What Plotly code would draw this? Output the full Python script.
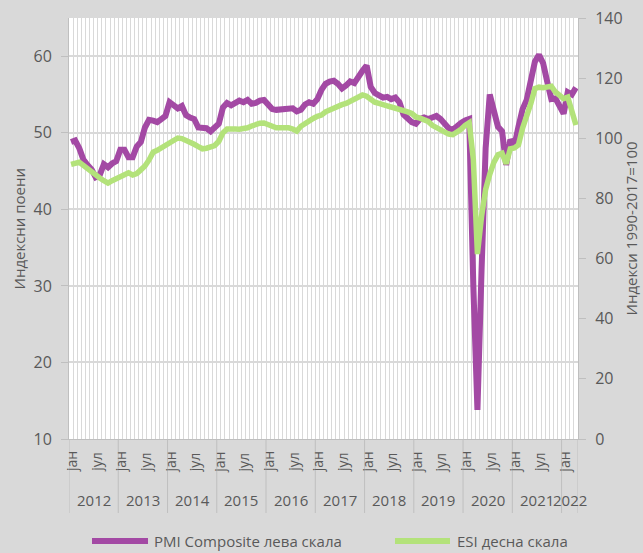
import plotly.graph_objects as go

years = [2012, 2013, 2014, 2015, 2016, 2017, 2018, 2019, 2020, 2021, 2022]
months_last_year = 4
month_names = {0: "јан", 6: "јул"}

pmi = [
    48.8, 49.0, 48.0, 46.5, 45.8, 45.2, 44.2, 44.5, 45.9, 45.5, 46.0, 46.3,
    47.8, 47.8, 46.8, 46.8, 48.2, 48.8, 50.7, 51.7, 51.6, 51.4, 51.8, 52.2,
    54.0, 53.5, 53.2, 53.5, 52.3, 52.0, 51.8, 50.7, 50.6, 50.6, 50.2, 50.7,
    51.2, 53.3, 53.9, 53.6, 53.8, 54.2, 54.0, 54.3, 53.8, 53.9, 54.2, 54.3,
    53.7, 53.1, 53.0, 53.1, 53.1, 53.2, 53.2, 52.8, 53.0, 53.7, 54.0, 53.8,
    54.4, 55.6, 56.4, 56.7, 56.8, 56.4, 55.8, 56.2, 56.7, 56.5, 57.5, 58.1,
    58.8, 56.0, 55.2, 55.0, 54.6, 54.7, 54.4, 54.6, 54.0, 52.4, 51.9, 51.4,
    51.2, 51.8, 52.0, 51.8, 52.0, 52.2, 51.8, 51.3, 50.6, 50.4, 50.9, 51.3,
    51.6, 51.8, 30.0, 13.8, 32.0, 48.0, 55.0, 52.5, 50.8, 50.2, 45.8, 49.1,
    48.3, 50.8, 53.1, 54.3, 56.9, 59.3, 60.2, 59.1, 56.7, 54.4, 54.5, 53.6,
    52.5, 55.3, 55.0, 55.9,
]

esi = [
    91.3, 91.8, 92.0, 91.0, 89.8, 88.8, 87.8, 86.8, 85.9, 85.1, 85.9, 86.6,
    87.3, 88.1, 88.5, 87.8, 88.3, 89.5, 90.8, 92.8, 95.4, 96.0, 96.8, 97.8,
    98.6, 99.6, 100.1, 99.9, 99.3, 98.9, 98.0, 97.2, 96.5, 96.7, 97.0, 97.6,
    99.0, 101.8, 103.1, 103.3, 103.1, 103.0, 103.2, 103.5, 104.1, 104.6, 105.0, 105.1,
    104.5, 103.9, 103.5, 103.5, 103.6, 103.5, 103.1, 102.4, 104.0, 105.0, 105.8, 106.6,
    107.3, 107.7, 108.8, 109.5, 110.0, 110.8, 111.2, 111.6, 112.3, 112.9, 113.5, 114.4,
    114.0, 112.8, 112.0, 111.6, 111.4, 110.8, 110.4, 110.1, 109.6, 109.1, 108.8, 108.3,
    107.1, 106.7, 106.3, 105.6, 104.3, 103.6, 102.4, 101.9, 101.4, 101.2, 102.0, 103.0,
    104.3, 105.2, 93.0, 61.5, 74.0, 83.0, 88.0, 92.0, 94.5, 95.0, 91.5, 96.5,
    96.8, 97.8, 103.4, 107.0, 111.5, 116.5, 117.0, 116.8, 117.0, 117.3, 115.4, 114.2,
    113.2, 113.7, 108.4, 104.4,
]

series_names = ["PMI Composite лева скала", "ESI десна скала"]
series_colors = ["#a349a4", "#b3e27a"]

categories = []
for y in years:
    n = months_last_year if y == years[-1] else 12
    for m in range(1, n + 1):
        categories.append(f"{y}-{m:02d}")
N = len(categories)

FONT = "Open Sans"
TXT = "#595959"
GRID = "#d9d9d9"
AX = "#bfbfbf"

# plot area geometry in pixels (for paper-coordinate helpers)
W, H = 643, 553
L, R, T, B = 69, 65, 18, 114
PW, PH = W - L - R, H - T - B


def px(xp):
    return (xp - L) / PW


def py(yp):
    return (H - B - yp) / PH


fig = go.Figure()
fig.add_trace(go.Scatter(
    x=categories, y=pmi, name=series_names[0], mode="lines",
    line=dict(color=series_colors[0], width=6), yaxis="y",
))
fig.add_trace(go.Scatter(
    x=categories, y=esi, name=series_names[1], mode="lines",
    line=dict(color=series_colors[1], width=5.5), yaxis="y2",
))

annotations = []
shapes = []
idx = 0
for y in years:
    n = months_last_year if y == years[-1] else 12
    for mo, name in month_names.items():
        if mo < n:
            annotations.append(dict(
                x=idx + mo, y=py(462), xref="x", yref="paper", text=name,
                textangle=-90, showarrow=False, xanchor="center", yanchor="middle",
                font=dict(family=FONT, size=14, color=TXT)))
    annotations.append(dict(
        x=idx + (n - 1) / 2, y=py(500), xref="x", yref="paper", text=str(y),
        showarrow=False, xanchor="center", yanchor="middle",
        font=dict(family=FONT, size=15, color=TXT)))
    shapes.append(dict(type="line", xref="x", yref="paper", x0=idx - 0.5, x1=idx - 0.5,
                       y0=0, y1=py(513), line=dict(color=AX, width=1)))
    idx += n
shapes.append(dict(type="line", xref="x", yref="paper", x0=idx - 0.5, x1=idx - 0.5,
                   y0=0, y1=py(513), line=dict(color=AX, width=1)))

annotations.append(dict(
    x=px(18), y=0.5, xref="paper", yref="paper", text="Индексни поени",
    textangle=-90, showarrow=False, xanchor="center", yanchor="middle",
    font=dict(family=FONT, size=15, color=TXT)))
annotations.append(dict(
    x=px(630), y=0.5, xref="paper", yref="paper", text="Индекси 1990-2017=100",
    textangle=-90, showarrow=False, xanchor="center", yanchor="middle",
    font=dict(family=FONT, size=15, color=TXT)))

# legend (drawn manually to match the reference placement)
legend_items = [(92, 148, 152), (395, 450, 455)]
for (x0, x1, xt), name, col in zip(legend_items, series_names, series_colors):
    shapes.append(dict(type="line", xref="paper", yref="paper", x0=px(x0), x1=px(x1),
                       y0=py(541), y1=py(541), line=dict(color=col, width=6)))
    annotations.append(dict(
        x=px(xt), y=py(541), xref="paper", yref="paper", text=name,
        showarrow=False, xanchor="left", yanchor="middle",
        font=dict(family=FONT, size=15, color=TXT)))

fig.update_layout(
    width=W, height=H,
    margin=dict(l=L, r=R, t=T, b=B, autoexpand=False),
    paper_bgcolor="#d9d9d9", plot_bgcolor="white",
    font=dict(family=FONT, size=15, color=TXT),
    xaxis=dict(
        type="category", categoryorder="array", categoryarray=categories,
        range=[-0.5, N - 0.5], tickson="boundaries", dtick=1,
        showgrid=True, gridcolor=GRID, gridwidth=1,
        showticklabels=False, ticks="", showline=True, linecolor=AX,
        zeroline=False, fixedrange=True, automargin=False,
    ),
    yaxis=dict(
        range=[10, 65], tickvals=[10, 20, 30, 40, 50, 60],
        showgrid=True, gridcolor=GRID, gridwidth=1.5,
        ticks="outside", ticklen=7, tickcolor=AX, showline=True, linecolor=AX,
        zeroline=False, ticklabelstandoff=6, automargin=False,
        tickfont=dict(family=FONT, size=16, color=TXT),
    ),
    yaxis2=dict(
        range=[0, 140], tickvals=[0, 20, 40, 60, 80, 100, 120, 140],
        overlaying="y", side="right", showgrid=False,
        ticks="outside", ticklen=7, tickcolor=AX, showline=True, linecolor=AX,
        zeroline=False, ticklabelstandoff=6, automargin=False,
        tickfont=dict(family=FONT, size=16, color=TXT),
    ),
    showlegend=False,
    annotations=annotations,
    shapes=shapes,
)

fig.write_html(
    "out.html",
    config={"displayModeBar": False},
    post_script="document.body.style.margin='0';document.body.style.overflow='hidden';",
)
